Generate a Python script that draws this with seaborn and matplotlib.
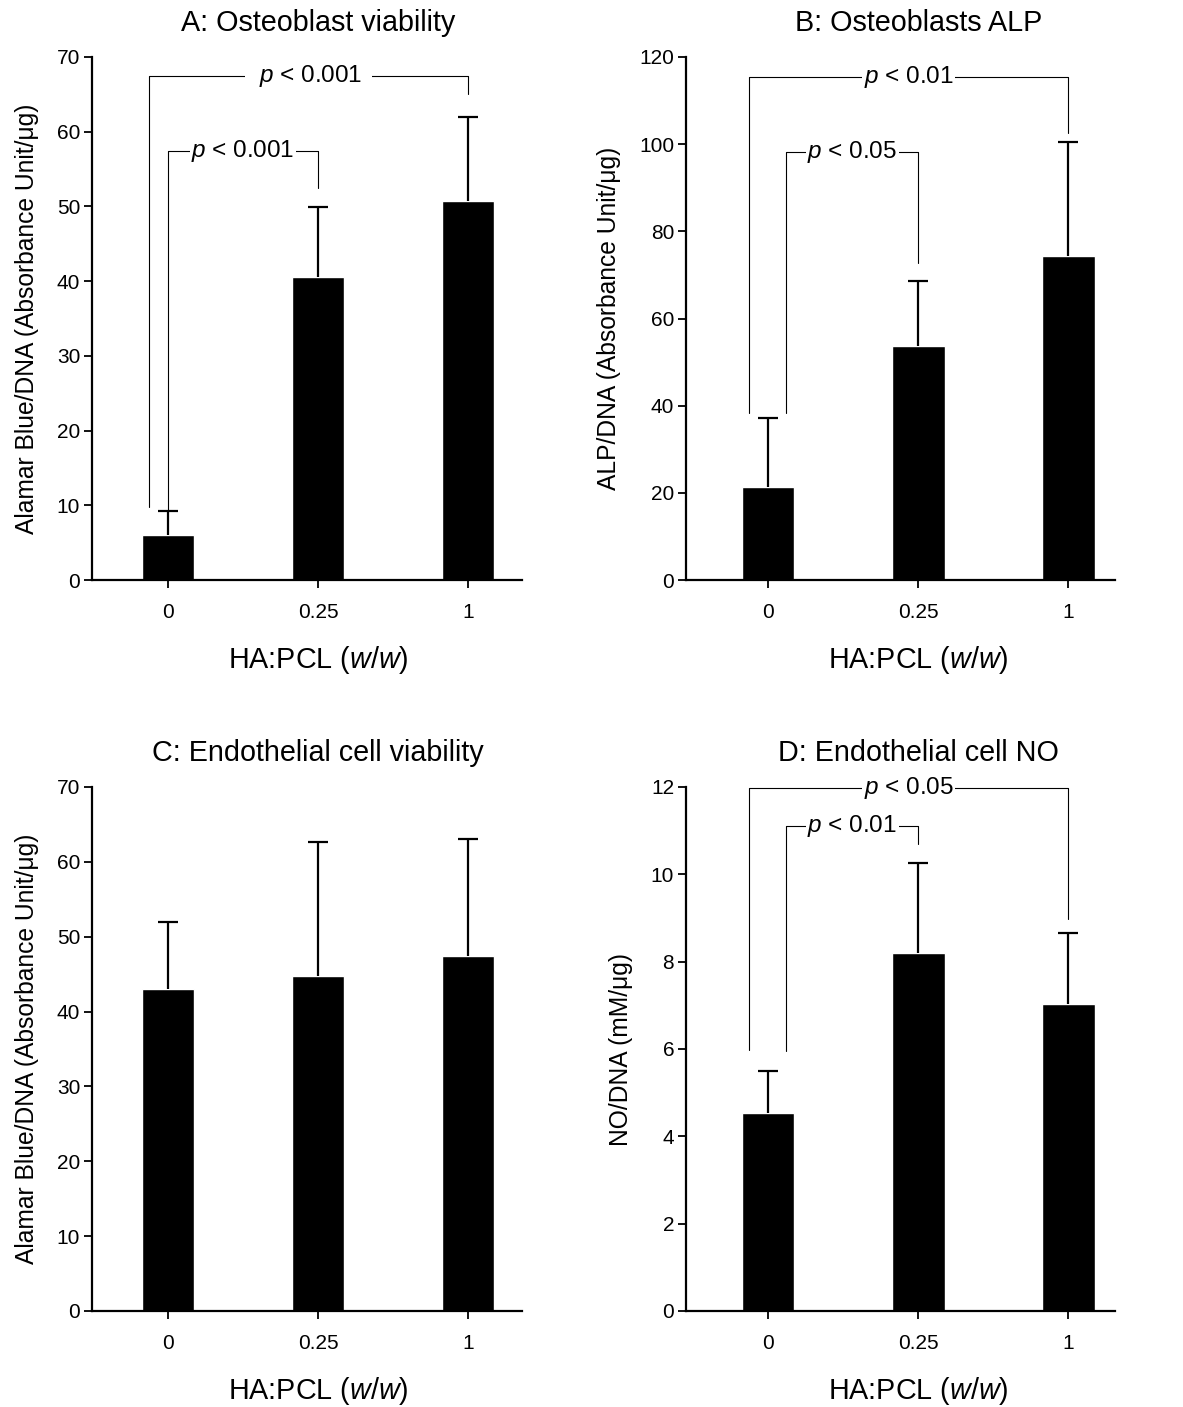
import numpy as np
import seaborn as sns
import matplotlib.pyplot as plt

sns.set_style("ticks")
plt.rcParams['font.family'] = ['Liberation Sans', 'DejaVu Sans']
plt.rcParams['mathtext.fontset'] = 'custom'
plt.rcParams['mathtext.rm'] = 'Liberation Sans'
plt.rcParams['mathtext.it'] = 'Liberation Sans:italic'
for k in ['text.color', 'axes.labelcolor', 'xtick.color', 'ytick.color', 'axes.edgecolor']:
    plt.rcParams[k] = 'black'

# HA:PCL ratio groups
groups = ["0", "0.25", "1"]

# mean and SD (upper bar only)
ob_viab_mean = [6.0, 40.6, 50.7]
ob_viab_sd = [3.2, 9.3, 11.3]
ob_alp_mean = [21.4, 53.6, 74.4]
ob_alp_sd = [15.8, 14.9, 26.1]
ec_viab_mean = [43.0, 44.8, 47.4]
ec_viab_sd = [9.0, 17.9, 15.7]
ec_no_mean = [4.53, 8.19, 7.04]
ec_no_sd = [0.96, 2.08, 1.61]

# significance brackets: (x left, x right, bracket level, left leg end, right leg end, label)
ob_viab_sig = [(-0.127, 2, 67.4, 9.8, 65.0, "  $\\it{p}$ < 0.001  "),
               (0, 1, 57.4, 9.2, 52.5, "$\\it{p}$ < 0.001")]
ob_alp_sig = [(-0.127, 2, 115.5, 38.4, 102.6, "$\\it{p}$ < 0.01"),
              (0.12, 1, 98.3, 38.4, 72.8, "$\\it{p}$ < 0.05")]
ec_no_sig = [(-0.127, 2, 11.97, 5.98, 8.98, "$\\it{p}$ < 0.05"),
             (0.12, 1, 11.1, 5.95, 10.69, "$\\it{p}$ < 0.01")]

panels = [
    ("A: Osteoblast viability", "Alamar Blue/DNA (Absorbance Unit/\u03bcg)",
     ob_viab_mean, ob_viab_sd, np.arange(0, 71, 10), ob_viab_sig),
    ("B: Osteoblasts ALP", "ALP/DNA (Absorbance Unit/\u03bcg)",
     ob_alp_mean, ob_alp_sd, np.arange(0, 121, 20), ob_alp_sig),
    ("C: Endothelial cell viability", "Alamar Blue/DNA (Absorbance Unit/\u03bcg)",
     ec_viab_mean, ec_viab_sd, np.arange(0, 71, 10), []),
    ("D: Endothelial cell NO", "NO/DNA (mM/\u03bcg)",
     ec_no_mean, ec_no_sd, np.arange(0, 13, 2), ec_no_sig),
]

W, H = 1183, 1407
fig = plt.figure(figsize=(W / 100, H / 100), dpi=100)
boxes = [(92, 522, 57, 580), (686, 1115, 57, 580),
         (92, 522, 787, 1311), (686, 1115, 787, 1311)]
xlims = [(-0.507, 2.36), (-0.547, 2.31), (-0.507, 2.36), (-0.547, 2.31)]

for (title, ylab, mean, sd, yt, sig), (x0, x1, y0, y1), xl in zip(panels, boxes, xlims):
    ax = fig.add_axes([x0 / W, 1 - y1 / H, (x1 - x0) / W, (y1 - y0) / H])
    sns.barplot(x=groups, y=mean, color="black", saturation=1, width=0.35,
                errorbar=None, ax=ax)
    _, caps, _ = ax.errorbar(np.arange(len(groups)), mean, yerr=[np.zeros(len(sd)), sd],
                             fmt="none", ecolor="black", elinewidth=1.6,
                             capsize=7, capthick=1.6)
    caps[0].set_visible(False)  # only the upper half of the SD is drawn
    for xa, xb, lvl, la, lb, lab in sig:
        ax.plot([xa, xa, xb, xb], [la, lvl, lvl, lb], color="black", lw=0.8,
                clip_on=False, zorder=3)
        ax.text((xa + xb) / 2, lvl, lab, ha="center", va="center", fontsize=17.5,
                bbox=dict(facecolor="white", edgecolor="none", pad=1), zorder=4)
    ax.set_xlim(*xl)
    ax.set_ylim(yt[0], yt[-1])
    ax.set_yticks(yt)
    # title and x label sit over the middle group
    mid = (1 - xl[0]) / (xl[1] - xl[0])
    ax.set_title(title, fontsize=20.7, pad=19, x=mid)
    ax.set_xlabel("HA:PCL ($\\it{w/w}$)", fontsize=20.7, labelpad=16, x=mid)
    ax.set_ylabel(ylab, fontsize=17.7, labelpad=13)
    ax.tick_params(axis="both", labelsize=15, length=5.5, width=1.3, color="black")
    ax.tick_params(axis="x", pad=11)
    ax.tick_params(axis="y", pad=3)
    for s in ["left", "bottom"]:
        ax.spines[s].set_linewidth(1.6)
    sns.despine(ax=ax)

fig.savefig("out.png", dpi=100)
